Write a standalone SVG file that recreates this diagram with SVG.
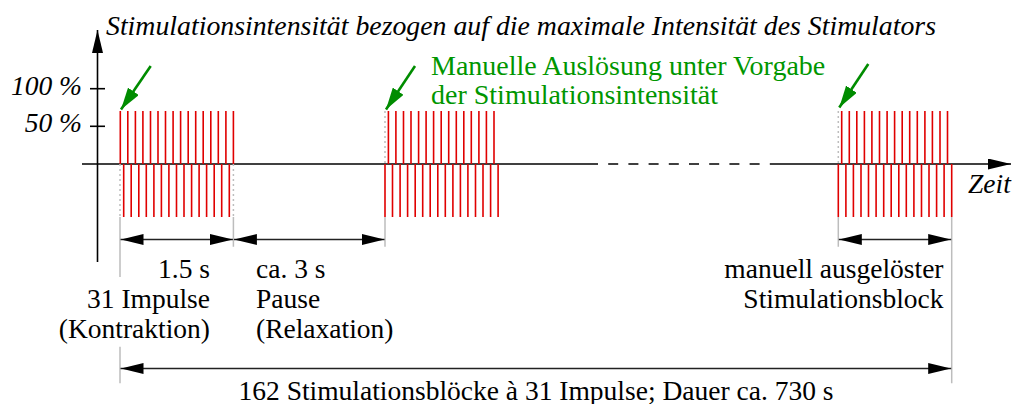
<svg xmlns="http://www.w3.org/2000/svg" width="1014" height="404" viewBox="0 0 1014 404" font-family="Liberation Serif, DejaVu Serif, serif">
<style>
text{font-family:'Liberation Serif','DejaVu Serif',serif;font-size:27.5px;fill:#000}
.it{font-style:italic}
.title{font-size:27.8px}
.green{fill:#009600;font-size:28px}
.axis{stroke:#000;stroke-width:1.6;fill:none}
.dim{stroke:#222;stroke-width:1.6;fill:none}
.pulse{stroke:#e00000;stroke-width:1.6;fill:none}
.guide{stroke:#bdbdbd;stroke-width:1.5;fill:none}
.dot{stroke:#bdbdbd;stroke-width:1.5;fill:none;stroke-dasharray:2 3}
.garrow{stroke:#008c00;stroke-width:2.6;fill:none}
</style>
<defs>
<marker id="ah" viewBox="-23 -5.5 23 11" markerWidth="23" markerHeight="11" refX="0" refY="0" orient="auto-start-reverse" markerUnits="userSpaceOnUse">
<path d="M0,0 L-23,-5.5 L-23,5.5 z" fill="#000"/>
</marker>
<marker id="gah" viewBox="-22 -6.5 22 13" markerWidth="22" markerHeight="13" refX="0" refY="0" orient="auto" markerUnits="userSpaceOnUse">
<path d="M0,0 L-22,-6.5 L-22,6.5 z" fill="#008c00"/>
</marker>
</defs>

<g id="title">
<text class="it title" x="106" y="35">Stimulationsintensität bezogen auf die maximale Intensität des Stimulators</text>
</g>

<g id="axes">
<line class="axis" x1="97.5" y1="262" x2="97.5" y2="30" marker-end="url(#ah)"/>
<line class="axis" x1="90" y1="88.7" x2="105" y2="88.7"/>
<line class="axis" x1="90" y1="126.3" x2="105" y2="126.3"/>
<line class="axis" x1="82" y1="164" x2="588" y2="164"/>
<line class="axis" x1="588" y1="164" x2="770" y2="164" stroke-dasharray="10 10.2"/>
<line class="axis" x1="770" y1="164" x2="1011" y2="164" marker-end="url(#ah)"/>
<text class="it" x="82" y="95" text-anchor="end">100 %</text>
<text class="it" x="82" y="131.7" text-anchor="end">50 %</text>
<text class="it" x="968" y="193.3">Zeit</text>
</g>

<g id="guides">
<path class="dot" d="M120,164V217M233.4,164V217M385,111V164M838.3,111V164"/>
<path class="guide" d="M120,217V277M120,346.7V383.3M233.4,217V246.7M385,217V246.7M838.3,217V246.7M951.7,217V383.3"/>
</g>

<g id="block1">
<path class="pulse" d="M120.3,111V164M127.8,111V164M135.4,111V164M142.9,111V164M150.5,111V164M158,111V164M165.5,111V164M173.1,111V164M180.6,111V164M188.2,111V164M195.7,111V164M203.2,111V164M210.8,111V164M218.3,111V164M225.9,111V164M233.4,111V164"/>
<path class="pulse" d="M123.7,164V217M131.2,164V217M138.8,164V217M146.3,164V217M153.9,164V217M161.4,164V217M168.9,164V217M176.5,164V217M184,164V217M191.6,164V217M199.1,164V217M206.6,164V217M214.2,164V217M221.7,164V217M229.3,164V217"/>
</g>

<g id="block2">
<path class="pulse" d="M388.4,111V164M395.9,111V164M403.5,111V164M411,111V164M418.6,111V164M426.1,111V164M433.6,111V164M441.2,111V164M448.7,111V164M456.3,111V164M463.8,111V164M471.3,111V164M478.9,111V164M486.4,111V164M494,111V164"/>
<path class="pulse" d="M385,164V217M392.5,164V217M400.1,164V217M407.6,164V217M415.2,164V217M422.7,164V217M430.2,164V217M437.8,164V217M445.3,164V217M452.9,164V217M460.4,164V217M467.9,164V217M475.5,164V217M483,164V217M490.6,164V217M498.1,164V217"/>
</g>

<g id="block3">
<path class="pulse" d="M841.7,111V164M849.3,111V164M856.8,111V164M864.4,111V164M871.9,111V164M879.5,111V164M887.1,111V164M894.6,111V164M902.2,111V164M909.7,111V164M917.3,111V164M924.9,111V164M932.4,111V164M940,111V164M947.5,111V164"/>
<path class="pulse" d="M838.3,164V217M845.9,164V217M853.4,164V217M861,164V217M868.5,164V217M876.1,164V217M883.7,164V217M891.2,164V217M898.8,164V217M906.3,164V217M913.9,164V217M921.5,164V217M929,164V217M936.6,164V217M944.1,164V217M951.7,164V217"/>
</g>

<g id="annotation">
<text class="green" x="431" y="75">Manuelle Auslösung unter Vorgabe</text>
<text class="green" x="431" y="103.5">der Stimulationsintensität</text>
</g>

<g id="connectors">
<line class="garrow" x1="150.7" y1="66" x2="121" y2="109.5" marker-end="url(#gah)"/>
<line class="garrow" x1="415" y1="66" x2="386" y2="109.5" marker-end="url(#gah)"/>
<line class="garrow" x1="868.3" y1="64" x2="839.3" y2="107.5" marker-end="url(#gah)"/>
<line class="dim" x1="120.5" y1="239.5" x2="232.9" y2="239.5" marker-start="url(#ah)" marker-end="url(#ah)"/>
<line class="dim" x1="233.9" y1="239.5" x2="384.5" y2="239.5" marker-start="url(#ah)" marker-end="url(#ah)"/>
<line class="dim" x1="838.8" y1="239.5" x2="951.2" y2="239.5" marker-start="url(#ah)" marker-end="url(#ah)"/>
<line class="dim" x1="120.5" y1="368.5" x2="951.2" y2="368.5" marker-start="url(#ah)" marker-end="url(#ah)"/>
</g>

<g id="labels">
<text x="210" y="278" text-anchor="end">1.5 s</text>
<text x="210" y="308" text-anchor="end">31 Impulse</text>
<text x="210" y="337.5" text-anchor="end">(Kontraktion)</text>
<text x="256" y="278">ca. 3 s</text>
<text x="256" y="308">Pause</text>
<text x="256" y="337.5">(Relaxation)</text>
<text x="943.5" y="278" text-anchor="end">manuell ausgelöster</text>
<text x="943.5" y="307.5" text-anchor="end">Stimulationsblock</text>
<text x="536" y="399.5" text-anchor="middle">162 Stimulationsblöcke à 31 Impulse; Dauer ca. 730 s</text>
</g>
</svg>
